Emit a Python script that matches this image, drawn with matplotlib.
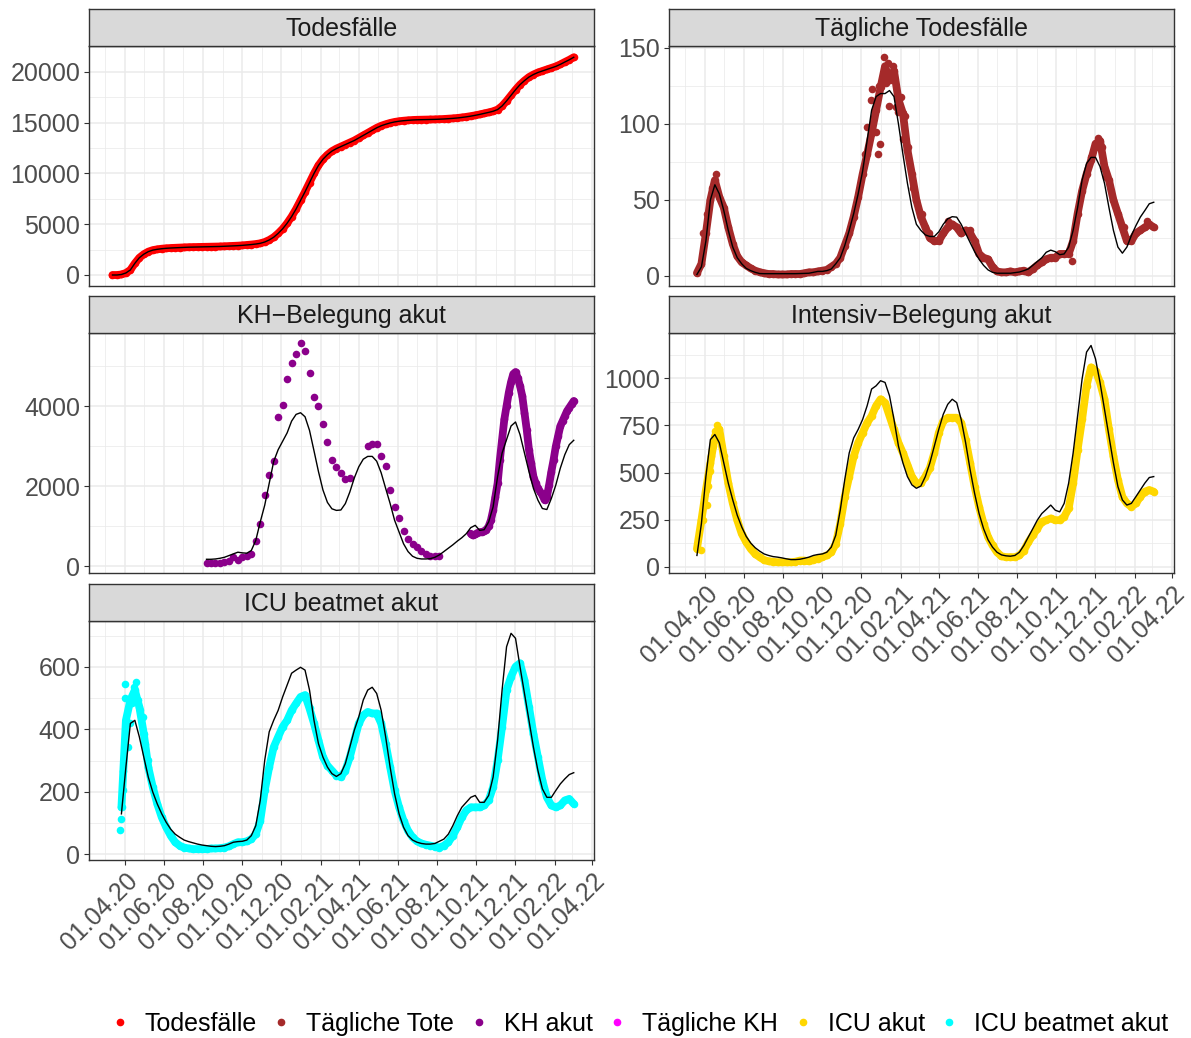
import matplotlib
matplotlib.use('Agg')
import matplotlib.pyplot as plt
import matplotlib.dates as mdates
from matplotlib.ticker import MultipleLocator, FixedLocator
from matplotlib.lines import Line2D
import numpy as np
import pandas as pd

plt.rcParams['font.family'] = ['Liberation Sans', 'DejaVu Sans']

# ---- Daten (wöchentlich ab 12.03.2020) ----
start_woche = '2020-03-12'

todesfaelle = [0, 0, 50, 200, 500, 1150, 1700, 2050, 2300, 2450,
               2530, 2590, 2630, 2660, 2680, 2700, 2720, 2740, 2750, 2760,
               2770, 2780, 2790, 2800, 2810, 2830, 2850, 2870, 2890, 2920,
               2960, 3000, 3050, 3120, 3250, 3450, 3720, 4100, 4550, 5100,
               5750, 6500, 7350, 8200, 9100, 10000, 10800, 11400, 11850, 12200,
               12450, 12650, 12850, 13050, 13250, 13500, 13750, 14000, 14250, 14500,
               14700, 14850, 14980, 15080, 15150, 15200, 15240, 15270, 15290, 15300,
               15310, 15320, 15330, 15350, 15370, 15400, 15430, 15470, 15520, 15580,
               15650, 15730, 15820, 15920, 16020, 16130, 16300, 16650, 17150, 17700,
               18250, 18750, 19150, 19500, 19750, 19950, 20100, 20250, 20400, 20550,
               20750, 20980, 21200, 21450]

# tägliche Tote, ab 19.03.2020
tote_start = '2020-03-19'
tote_tag = [2, 8, 28, 50, 63, 52, 45, 32, 21, 13,
            9, 7, 5, 3.5, 2.5, 1.8, 1.3, 1.3, 1, 1,
            1, 1.3, 1.3, 1.3, 1.8, 2.4, 2.4, 3, 3.5, 4,
            6, 8, 12, 20, 28, 39, 52, 67, 80, 94,
            109, 124, 138, 129, 135, 116, 107, 83, 67, 50,
            39, 32, 25, 23, 23, 28, 32, 34, 32, 28,
            30, 28, 23, 14.5, 12, 11, 6, 3, 2.4, 2.4,
            3, 2.4, 3, 3.5, 2.4, 4.6, 7, 9, 11, 12,
            12, 14.5, 14.5, 14.5, 23, 41, 56, 67, 76, 87,
            89, 72, 63, 50, 41, 32, 23, 23, 28, 30,
            32, 34, 32]
tote_fit = [1, 6, 23, 50, 60, 54, 43, 30, 19, 12,
            8, 5, 3.5, 2.4, 1.6, 1.5, 1.5, 1.5, 1.5, 1.5,
            1.5, 1.5, 1.5, 1.6, 1.7, 1.8, 2.4, 3, 3, 3.5,
            4.6, 8, 12, 20, 30, 41, 54, 69, 89, 109,
            118, 120, 120, 122, 118, 100, 80, 61, 45, 34,
            30, 27, 26, 26, 29, 34, 37.6, 39, 38.7, 34,
            28, 22, 16, 11, 7, 4, 2.4, 1.8, 1.8, 1.8,
            1.8, 2.2, 2.6, 3.5, 4.6, 7, 9.5, 12, 15.6, 17,
            16, 14, 14.5, 19, 30, 45, 63, 74, 78, 78,
            72, 61, 45, 30, 19, 15, 19, 26.6, 33, 38.7,
            43, 47.5, 48.5]
# Streuung der Tageswerte
tote_streu_datum = ['2020-03-29', '2020-04-04', '2020-04-12', '2020-04-18', '2020-12-07',
                    '2020-12-10', '2020-12-16', '2020-12-18', '2020-12-22', '2020-12-24',
                    '2020-12-27', '2020-12-29', '2020-12-30', '2021-01-02', '2021-01-06',
                    '2021-01-08', '2021-01-11', '2021-01-13', '2021-01-16', '2021-01-20',
                    '2021-01-24', '2021-01-27', '2021-02-01', '2021-02-04', '2021-02-07',
                    '2021-02-12', '2021-02-20', '2021-03-05', '2021-03-17', '2021-04-15',
                    '2021-05-20', '2021-06-07', '2021-10-26', '2021-11-25', '2021-12-06',
                    '2021-12-12', '2021-12-18', '2022-01-16', '2022-02-21']
tote_streu = [28, 41, 58, 67, 80,
              98, 116, 123, 109, 95,
              80, 125, 87, 127, 144,
              127, 140, 112, 131, 138,
              111, 108, 118, 90, 105,
              85, 58, 41, 28, 36,
              30, 12, 10, 78, 91,
              85, 65, 32, 36]

# KH-Belegung: wöchentlich ab 06.08.2020, dann halbwöchentlich ab 23.09.2021
kh_start = '2020-08-06'
kh_woche = [84, 67, 67, 84, 92, 118, 218, 151, 218, 244,
            303, 622, 1059, 1773, 2277, 2613, 3731, 4017, 4672, 5076,
            5300, 5571, 5370, 4815, 4235, 4000, 3555, 3092, 2639, 2487,
            2319, 2176, 2210, np.nan, np.nan, np.nan, 2992, 3059, 3042, 2740,
            2504, 1899, 1479, 1193, 874, 681, 555, 471, 387, 303,
            260, 244, 260]
kh_dicht_start = '2021-09-23'
kh_dicht = [807, 765, 790, 824, 849, 849, 874, 908, 992, 1143,
            1395, 1731, 2067, 2655, 3160, 3664, 4000, 4336, 4600, 4800,
            4850, 4700, 4504, 4252, 3832, 3412, 2908, 2571, 2235, 2067,
            1941, 1857, 1773, 1647, 1731, 2025, 2361, 2655, 2992, 3244,
            3496, 3622, 3748, 3874, 3958, 4042, 4126]
kh_fit = [168, 168, 176, 193, 218, 260, 303, 345, 328, 320,
          387, 639, 1101, 1521, 2067, 2613, 2908, 3118, 3328, 3622,
          3790, 3832, 3731, 3390, 2880, 2360, 1900, 1590, 1430, 1390,
          1400, 1560, 1850, 2200, 2480, 2670, 2740, 2740, 2620, 2330,
          1941, 1563, 1143, 849, 555, 361, 244, 193, 176, 176,
          185, 218, 277, 361, 445, 529, 622, 706, 807, 958,
          1017, 891, 908, 1101, 1479, 2235, 2824, 3160, 3500, 3600,
          3286, 2824, 2361, 1941, 1647, 1437, 1412, 1689, 2025, 2445,
          2782, 3034, 3143]

# Intensiv-Belegung, ab 19.03.2020
its_start = '2020-03-19'
its = [96, 248, 408, 551, 693, 729, 586, 444, 337, 248,
       176, 132, 96, 69, 52, 37, 30, 28, 25, 25,
       25, 25, 28, 34, 34, 30, 37, 43, 52, 61,
       78, 123, 230, 372, 479, 586, 658, 711, 764, 800,
       854, 889, 871, 800, 729, 658, 604, 542, 479, 444,
       444, 479, 524, 604, 711, 773, 791, 791, 791, 764,
       675, 551, 426, 319, 230, 159, 114, 78, 57, 52,
       52, 52, 61, 87, 132, 168, 203, 239, 248, 257,
       248, 248, 266, 310, 444, 622, 782, 960, 1058, 1041,
       978, 889, 729, 586, 462, 372, 337, 319, 337, 372,
       399, 408, 399]
its_fit = [61, 230, 479, 675, 702, 658, 551, 444, 355, 274,
           212, 162, 127, 102, 84, 69, 61, 55, 52, 48,
           43, 39, 39, 41, 46, 52, 61, 66, 69, 78,
           105, 168, 301, 462, 604, 684, 729, 782, 854, 943,
           960, 987, 978, 907, 782, 640, 551, 479, 435, 417,
           429, 479, 551, 640, 729, 809, 862, 889, 871, 782,
           658, 515, 390, 283, 203, 144, 105, 78, 64, 59,
           57, 61, 78, 114, 159, 203, 248, 283, 305, 328,
           301, 292, 337, 444, 604, 800, 996, 1139, 1174, 1103,
           978, 836, 693, 551, 426, 355, 328, 337, 372, 408,
           444, 474, 479]
its_streu_datum = ['2020-03-25', '2020-03-29', '2020-04-03', '2020-04-06', '2020-04-08',
                   '2020-04-10', '2020-04-13', '2020-04-16', '2020-04-19', '2020-04-22']
its_streu = [90, 250, 330, 430, 510, 590, 640, 720, 755, 690]

# ICU beatmet, ab 26.03.2020
icu_start = '2020-03-26'
icu = [150, 429, 494, 526, 472, 386, 279, 215, 161,
       118, 86, 59, 38, 27, 21, 18, 16, 16, 16,
       16, 18, 18, 19, 21, 25, 32, 38, 38, 41,
       48, 64, 107, 204, 279, 343, 376, 408, 429, 461,
       483, 504, 510, 467, 419, 365, 311, 284, 268, 252,
       247, 268, 311, 365, 419, 445, 456, 451, 451, 419,
       354, 279, 204, 150, 107, 75, 54, 41, 34, 30,
       27, 24, 21, 27, 38, 59, 86, 118, 140, 150,
       150, 150, 156, 172, 215, 301, 408, 526, 569, 601,
       612, 558, 472, 386, 311, 236, 182, 156, 150, 156,
       172, 177, 161]
icu_fit = [129, 279, 419, 429, 376, 311, 247, 199, 161,
           129, 102, 80, 64, 54, 45, 40, 36, 32, 29,
           27, 25, 24, 25, 27, 32, 38, 40, 41, 45,
           59, 91, 172, 301, 392, 429, 461, 504, 542, 580,
           590, 599, 590, 526, 429, 354, 311, 279, 258, 249,
           258, 290, 343, 397, 440, 494, 526, 535, 515, 461,
           376, 279, 193, 129, 86, 59, 45, 38, 34, 32,
           32, 34, 41, 48, 64, 91, 123, 150, 166, 182,
           188, 166, 166, 188, 247, 365, 526, 665, 708, 692,
           601, 515, 429, 343, 268, 209, 182, 182, 204, 225,
           241, 255, 261]
icu_streu_datum = ['2020-03-24', '2020-03-26', '2020-03-27', '2020-03-28', '2020-03-29',
                   '2020-03-31', '2020-04-01', '2020-04-06', '2020-04-09', '2020-04-12',
                   '2020-04-15', '2020-04-18', '2020-04-21', '2020-04-24', '2020-04-28',
                   '2020-05-02', '2020-05-06']
icu_streu = [77, 113, 150, 204, 268, 547, 499, 343, 419, 483, 537, 553, 494, 461, 440, 354, 301]

legende_namen = ['Todesfälle', 'Tägliche Tote', 'KH akut', 'Tägliche KH', 'ICU akut', 'ICU beatmet akut']
legende_farben = ['#FF0000', '#A52A2A', '#8B008B', '#FF00FF', '#FFD700', '#00FFFF']

SCHRIFT = 18


def wochen(start, werte, freq='7D'):
    return pd.date_range(start, periods=len(werte), freq=freq)


W, H = 1191, 1038
fig = plt.figure(figsize=(W / 100, H / 100), dpi=100)


def rect(x0, y0, x1, y1):
    return [x0 / W, 1 - y1 / H, (x1 - x0) / W, (y1 - y0) / H]


x_links = pd.Timestamp('2020-02-04 08:00')
x_rechts = pd.Timestamp('2022-04-03 16:00')
haupt = pd.date_range('2020-04-01', '2022-04-01', freq='2MS')
neben = [d for d in pd.date_range('2020-03-01', '2022-04-01', freq='MS') if d not in haupt]


def facette(x0, y0, x1, y1, titel, ylim, ymaj, ymin, xlabels=False):
    ax = fig.add_axes(rect(x0, y0, x1, y1))
    ax.set_xlim(x_links, x_rechts)
    ax.set_ylim(*ylim)
    ax.xaxis.set_major_locator(FixedLocator(mdates.date2num(haupt)))
    ax.xaxis.set_minor_locator(FixedLocator(mdates.date2num(neben)))
    ax.yaxis.set_major_locator(MultipleLocator(ymaj))
    ax.yaxis.set_minor_locator(MultipleLocator(ymin))
    ax.grid(which='major', color='#EBEBEB', lw=1.1)
    ax.grid(which='minor', color='#EBEBEB', lw=0.55)
    ax.set_axisbelow(True)
    for s in ax.spines.values():
        s.set_color('#333333')
        s.set_linewidth(1.0)
    ax.tick_params(which='minor', length=0)
    ax.tick_params(which='major', length=3.3, width=0.8, color='#333333',
                   labelsize=SCHRIFT, labelcolor='#4D4D4D', pad=3)
    if xlabels:
        ax.xaxis.set_major_formatter(mdates.DateFormatter('%d.%m.%y'))
        plt.setp(ax.get_xticklabels(), rotation=45, ha='right', rotation_mode='anchor')
    else:
        ax.tick_params(axis='x', bottom=False, labelbottom=False)
    st = fig.add_axes(rect(x0, y0 - 37, x1, y0))
    st.set_facecolor('#D9D9D9')
    st.set_xticks([])
    st.set_yticks([])
    for s in st.spines.values():
        s.set_color('#333333')
        s.set_linewidth(1.0)
    st.text(0.5, 0.47, titel, ha='center', va='center', fontsize=SCHRIFT, color='#1A1A1A',
            transform=st.transAxes)
    return ax


def punkte(ax, x, y, farbe, band=True):
    if band:
        ax.plot(x, y, color=farbe, lw=5.6, solid_capstyle='round', solid_joinstyle='round', zorder=2)
    ax.scatter(x, y, s=30, color=farbe, linewidths=0, zorder=3)


def fit(ax, x, y):
    ax.plot(x, y, color='black', lw=1.0, zorder=4)


# Todesfälle
ax1 = facette(89, 46, 594, 286, 'Todesfälle', (-1084, 22560), 5000, 2500)
punkte(ax1, wochen(start_woche, todesfaelle), todesfaelle, legende_farben[0])
fit(ax1, wochen(start_woche, todesfaelle), todesfaelle)

# Tägliche Todesfälle
ax2 = facette(669, 46, 1174, 286, 'Tägliche Todesfälle', (-6.6, 151.3), 50, 25)
punkte(ax2, wochen(tote_start, tote_tag), tote_tag, legende_farben[1])
punkte(ax2, pd.to_datetime(tote_streu_datum), tote_streu, legende_farben[1], band=False)
fit(ax2, wochen(tote_start, tote_fit), tote_fit)

# KH-Belegung
ax3 = facette(89, 333, 594, 573, 'KH\u2212Belegung akut', (-175, 5825), 2000, 1000)
punkte(ax3, wochen(kh_start, kh_woche), kh_woche, legende_farben[2], band=False)
punkte(ax3, wochen(kh_dicht_start, kh_dicht, '84h'), kh_dicht, legende_farben[2])
fit(ax3, wochen(kh_start, kh_fit), kh_fit)

# Intensiv-Belegung
ax4 = facette(669, 333, 1174, 573, 'Intensiv\u2212Belegung akut', (-32, 1240), 250, 125, xlabels=True)
punkte(ax4, wochen(its_start, its), its, legende_farben[4])
punkte(ax4, pd.to_datetime(its_streu_datum), its_streu, legende_farben[4], band=False)
fit(ax4, wochen(its_start, its_fit), its_fit)

# ICU beatmet
ax5 = facette(89, 621, 594, 860, 'ICU beatmet akut', (-19, 747.5), 200, 100, xlabels=True)
punkte(ax5, wochen(icu_start, icu), icu, legende_farben[5])
punkte(ax5, pd.to_datetime(icu_streu_datum), icu_streu, legende_farben[5], band=False)
fit(ax5, wochen(icu_start, icu_fit), icu_fit)

handles = [Line2D([], [], marker='o', linestyle='', color=c, markersize=4.5) for c in legende_farben]
fig.legend(handles, legende_namen, loc='center', bbox_to_anchor=(639 / W, 1 - 1024 / H), ncol=6,
           frameon=False, fontsize=SCHRIFT, handlelength=0.8, handletextpad=0.6, columnspacing=0.58,
           borderpad=0)

fig.savefig('out.png', dpi=100)
